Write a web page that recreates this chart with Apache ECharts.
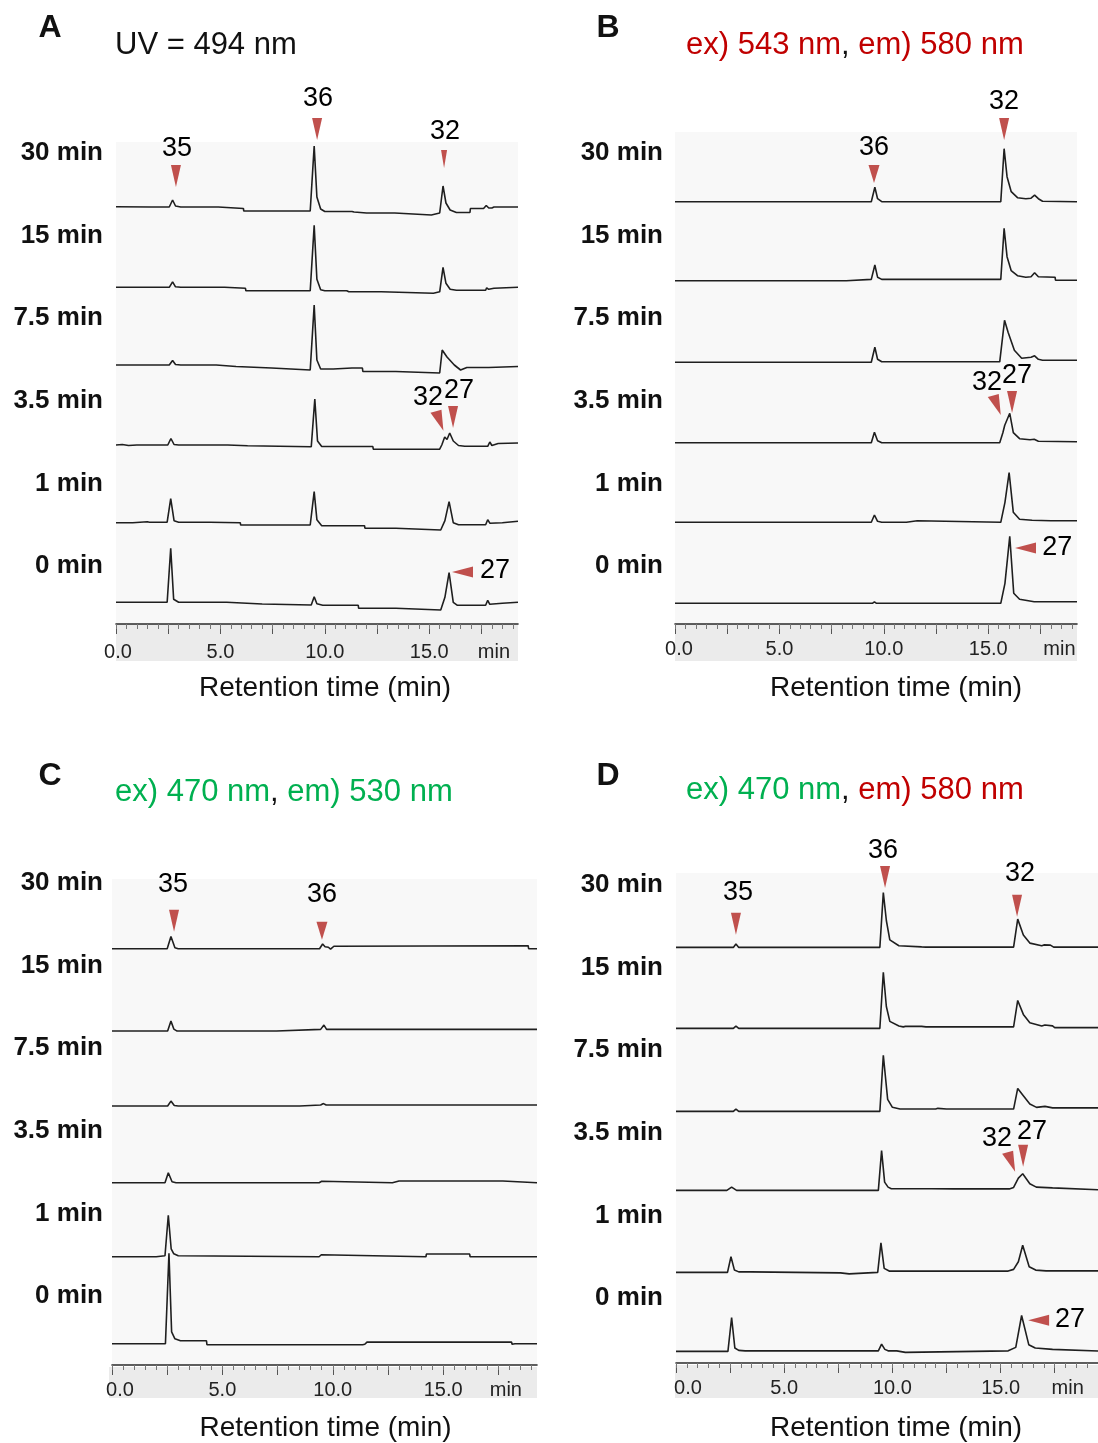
<!DOCTYPE html>
<html>
<head>
<meta charset="utf-8">
<title>HPLC chromatograms</title>
<script src="https://cdn.jsdelivr.net/npm/echarts@6/dist/echarts.min.js"></script>
<style>
  html, body { margin: 0; padding: 0; background: #ffffff; }
  #chart { width: 1098px; height: 1443px; }
</style>
</head>
<body>
<div id="chart"></div>
<script>
// Incubation times, one trace per time point (top to bottom)
const rowLabels = ['30 min', '15 min', '7.5 min', '3.5 min', '1 min', '0 min'];
// Tick labels on the retention-time axis (min)
const timeLabels = [0, 5, 10, 15];
const axisTitle = 'Retention time (min)';

// Each trace: [retention time (min), detector signal above the trace baseline]

// A: UV 494 nm
const a30 = [[0,0.3],[1.7,0],[2.55,0],[2.71,7],[2.85,1],[3.1,0],[4.9,0],[4.92,-1.5],[6.1,-1.5],[6.12,-4],[9.3,-4],[9.49,61],[9.62,10],[9.8,-2],[10.0,-4.5],[11.3,-4.5],[11.35,-3],[11.4,-5],[12.0,-6],[13.35,-6],[13.37,-8],[15.1,-8],[15.15,-6],[15.5,-6],[15.66,21],[15.8,4],[16.0,-3],[16.3,-5.5],[16.95,-5.5],[16.97,-1.5],[17.6,-1.5],[17.73,1.5],[17.85,-1],[18.0,-1],[18.1,0],[19.25,0]];
const a15 = [[0,0],[1.28,0],[1.3,1.5],[1.32,0],[2.55,0],[2.71,5.5],[2.85,0.5],[3.1,0],[3.84,0],[3.86,1.5],[3.88,0],[5.2,0],[5.22,-1],[6.2,-1],[6.22,-3.5],[9.3,-3.5],[9.49,62],[9.62,8],[9.8,-2.5],[10.0,-3.5],[11.05,-3.5],[11.1,-2],[11.15,-4.5],[12.7,-4.5],[12.75,-6],[15.2,-6],[15.22,-4.5],[15.5,-4.5],[15.66,20],[15.8,4],[16.0,-2],[16.3,-3],[17.7,-3],[17.75,-0.5],[17.85,-2],[18.1,-1],[18.12,0],[19.25,0]];
const a7_5 = [[0,0],[2.55,0],[2.71,4.5],[2.85,0.5],[3.1,0],[4.8,0],[4.82,-1.5],[5.75,-1.5],[5.77,-3],[7.45,-3],[7.47,-5],[9.3,-5],[9.49,60],[9.62,5],[9.8,-4],[10.4,-4],[10.42,-3],[11.3,-3],[11.35,-1.5],[11.4,-3],[11.8,-3],[11.82,-6.5],[13.4,-6.5],[13.42,-8],[15.5,-8],[15.62,15],[15.85,8],[16.2,0],[16.5,-5],[16.8,-2.5],[17.7,-2.5],[17.75,-0.5],[17.85,-2.5],[19.25,-1.5]];
const a3_5 = [[0,0],[0.3,0.5],[0.6,-0.5],[1.0,0],[2.48,0],[2.63,6.5],[2.78,0.5],[3.0,0],[5.35,0],[5.37,-0.7],[6.3,-0.7],[6.32,-1.7],[9.35,-1.7],[9.52,46],[9.65,4],[9.85,-1.5],[11.3,-1.5],[11.35,0],[11.4,-1.5],[12.3,-1.5],[12.32,-4.2],[15.5,-4.2],[15.6,0],[15.74,8],[15.85,5.5],[15.98,12],[16.15,4],[16.4,-0.5],[16.7,-1.3],[17.8,-1.3],[17.9,3],[18.0,-0.5],[18.3,1.5],[19.25,2]];
const a1 = [[0,0],[0.8,0],[0.85,1],[1.5,1],[1.6,0.5],[2.45,0.5],[2.62,24],[2.78,2],[3.0,0.5],[4.5,0.5],[4.52,0],[5.95,0],[5.97,-2.3],[9.3,-2.3],[9.49,31],[9.62,3],[9.85,-3],[11.9,-3],[11.92,-5.5],[13.4,-5.5],[13.42,-7.3],[15.55,-7.3],[15.75,2],[15.95,21],[16.15,0],[16.4,-2],[17.7,-2],[17.8,3],[17.9,-0.5],[18.5,0],[18.52,1],[19.25,1.5]];
const a0 = [[0,0],[2.45,0],[2.62,54],[2.76,3],[3.0,0],[5.3,0],[5.32,-1.7],[7.0,-1.7],[7.02,-2.7],[9.35,-2.7],[9.49,5.6],[9.62,-1.5],[9.9,-3],[11.6,-3],[11.62,-6],[13.4,-6],[13.42,-7.7],[15.55,-7.7],[15.75,5],[15.95,29.6],[16.15,0],[16.35,-3],[17.7,-3],[17.8,2],[17.9,-2],[18.5,-1],[18.52,0],[19.25,0]];

// B: ex 543 nm / em 580 nm
const b30 = [[0,0],[9.4,0],[9.57,14.4],[9.7,3],[9.9,0],[15.6,0],[15.76,53],[15.9,25],[16.1,10],[16.4,4],[16.8,3],[17.05,3.5],[17.22,6.5],[17.4,3],[17.6,0.5],[19.25,0]];
const b15 = [[0,0],[8.2,0],[8.22,1.3],[9.4,1.3],[9.57,15.7],[9.7,3.5],[9.9,1.3],[15.6,1.3],[15.76,52.4],[15.9,24],[16.1,10],[16.4,5],[16.8,3.5],[17.05,4],[17.22,8],[17.4,4],[18.2,3.5],[18.22,0.5],[19.25,0.5]];
const b7_5 = [[0,0],[9.4,0],[9.57,15],[9.7,3],[9.9,0.5],[11.4,0.5],[11.48,2],[11.55,0.5],[15.55,0.5],[15.78,42],[15.95,30],[16.25,12],[16.6,4],[17.05,5],[17.22,6.5],[17.4,3],[17.6,2],[19.25,2]];
const b3_5 = [[0,0],[9.4,0],[9.55,10.4],[9.7,2],[9.9,0],[15.55,0],[15.7,10],[15.79,17.5],[15.87,15.5],[16.03,29.4],[16.2,10],[16.5,4],[17.0,3],[17.2,3.5],[17.4,1.5],[19.25,1]];
const b1 = [[0,0],[9.4,0],[9.55,7.3],[9.7,1],[9.9,0],[11.08,0],[11.1,1.5],[11.6,1.5],[11.62,0],[15.6,0],[15.8,20],[16.0,49.6],[16.2,10],[16.5,3],[17.1,2],[18.0,1.5],[19.25,1.5]];
const b0 = [[0,0],[9.45,0],[9.55,1.5],[9.65,0],[15.6,0],[15.8,20],[16.03,67],[16.22,10],[16.5,4],[17.2,1.5],[19.25,1.5]];

// C: ex 470 nm / em 530 nm
const c30 = [[0,0],[2.5,0],[2.67,12.3],[2.85,1],[3.0,0],[9.4,0],[9.54,4.7],[9.65,2],[9.8,1.5],[9.9,-0.5],[10.05,2.5],[10.1,3],[18.85,3],[18.87,0],[19.25,0]];
const c15 = [[0,0],[1.9,0],[1.95,2],[2.0,0],[2.52,0],[2.67,10],[2.8,2],[2.95,0],[7.45,0],[7.47,1.7],[9.45,1.7],[9.6,6],[9.72,1.7],[19.25,1.7]];
const c7_5 = [[0,0],[2.52,0],[2.67,5],[2.82,0.5],[3.0,0],[8.5,0],[8.52,1],[9.45,1],[9.58,2.5],[9.7,1],[19.25,1]];
const c3_5 = [[0,0],[2.4,0],[2.55,10],[2.72,1],[2.9,0],[9.38,0],[9.4,1.5],[9.5,1.5],[9.52,0],[12.7,0],[12.72,1.7],[13.0,1.7],[13.02,0.5],[13.05,1.7],[17.7,1.7],[17.72,0],[19.25,0]];
const c1 = [[0,0],[1.5,0],[1.52,-1],[1.6,0],[1.9,0],[1.92,-1],[2.0,0],[2.4,1],[2.55,41.7],[2.68,8],[2.8,3],[3.0,1],[3.05,0],[9.38,0],[9.4,2],[9.48,2],[9.5,0],[14.22,0],[14.24,2.7],[16.2,2.7],[16.22,0],[16.3,-0.5],[16.35,0],[19.25,0]];
const c0 = [[0,0],[2.42,0],[2.58,91],[2.7,12],[2.85,5],[3.1,3],[4.28,3],[4.3,-1],[9.4,-1],[9.45,0.5],[9.5,-1],[11.35,-1],[11.4,0.5],[11.45,-0.5],[11.55,1.7],[18.1,1.7],[18.12,-0.5],[18.2,0.5],[18.25,0],[19.25,0]];

// D: ex 470 nm / em 580 nm
const d30 = [[0,0],[2.65,0],[2.77,3.4],[2.9,0],[9.42,0],[9.58,55],[9.72,27],[9.88,7.5],[10.3,1.7],[10.35,0.5],[11.35,0.5],[11.42,1.8],[11.55,0.3],[15.6,0.3],[15.79,28.4],[16.05,12.5],[16.35,4.3],[16.9,1.7],[17.0,2.5],[17.3,2.3],[17.45,0.3],[19.5,0.3]];
const d15 = [[0,0],[2.65,0],[2.77,2.3],[2.9,0],[9.42,0],[9.58,56.3],[9.72,22],[9.88,7],[10.3,2.3],[10.5,1.5],[10.6,2],[11.35,2],[11.42,3],[11.55,1.5],[15.6,1.5],[15.79,28],[16.05,14],[16.35,5.7],[16.9,2.3],[17.05,3.3],[17.4,2.5],[17.5,0.7],[19.5,0.7]];
const d7_5 = [[0,0],[2.65,0],[2.77,2.3],[2.9,0],[9.42,0],[9.58,56.3],[9.78,12],[10.0,4],[10.35,2.3],[12.0,2.3],[12.05,1],[12.1,3],[12.5,2.3],[15.6,2.3],[15.79,23],[16.05,15.7],[16.35,7.3],[16.66,4],[17.05,5],[17.4,3.5],[19.5,3.5]];
const d3_5 = [[0,0],[2.35,0],[2.57,3.3],[2.8,0],[8.7,0],[8.72,-0.8],[8.8,0],[9.35,0],[9.5,40],[9.64,8.3],[9.8,3.3],[9.95,1.7],[10.85,1.7],[10.9,0.5],[10.95,1.7],[11.8,1.7],[12.85,1.5],[15.4,1.5],[15.6,3],[15.82,12.3],[15.9,11.5],[16.02,16.7],[16.35,6.7],[16.65,3.3],[17.4,2.5],[17.45,0.7],[19.5,0.7]];
const d1 = [[0,0],[2.38,0],[2.54,15.7],[2.7,2.3],[2.9,0.5],[3.45,0.5],[3.47,-0.5],[7.6,-0.5],[7.62,-1.5],[8.0,-1.5],[8.02,0],[9.32,0],[9.47,29.7],[9.62,4],[9.85,1.3],[14.7,1.3],[14.75,2.5],[14.8,1.3],[15.35,1.3],[15.6,3],[15.82,10.7],[16.02,27.3],[16.32,5.7],[16.62,2.3],[17.1,1.5],[19.5,1.5]];
const d0 = [[0,0],[2.4,0],[2.57,34],[2.72,3.3],[2.9,1],[3.2,0.5],[9.35,0.5],[9.5,7.3],[9.65,2],[9.8,0.5],[10.2,0.5],[10.22,-1],[10.6,-1],[10.62,0.5],[15.35,0.5],[15.7,4],[15.97,36],[16.3,6.7],[16.6,3.3],[17.4,2],[17.42,0.3],[19.5,0.3]];

// Peak markers: [compound, trace row, arrow time, arrow level, text time, text level, arrow shape]
const marksA = [
  ['35', 0, 2.87, 20, 2.92, 61, 'down'],
  ['36', 0, 9.63, 67, 9.67, 111, 'down'],
  ['32', 0, 15.71, 39, 15.76, 78, 'thin'],
  ['32', 3, 15.68, 14.3, 14.94, 50, 'tilt'],
  ['27', 3, 16.14, 17, 16.43, 57, 'down'],
  ['27', 5, 16.09, 30.3, 18.15, 34.3, 'left']
];
const marksB = [
  ['36', 0, 9.53, 18.7, 9.53, 56.7, 'short'],
  ['32', 0, 15.76, 61.7, 15.76, 102.7, 'down'],
  ['32', 3, 15.6, 27.7, 14.94, 62.7, 'tilt'],
  ['27', 3, 16.14, 29.7, 16.38, 69.7, 'down'],
  ['27', 5, 16.28, 55.3, 18.3, 58.3, 'left']
];
const marksC = [
  ['35', 0, 2.81, 17, 2.76, 67, 'down'],
  ['36', 0, 9.51, 9, 9.51, 57, 'short']
];
const marksD = [
  ['35', 0, 2.77, 12.7, 2.87, 57.7, 'down'],
  ['36', 0, 9.66, 59.7, 9.57, 100.7, 'down'],
  ['32', 0, 15.76, 30.7, 15.9, 76.7, 'down'],
  ['32', 3, 15.67, 18.7, 14.83, 54.7, 'tilt'],
  ['27', 3, 16.04, 23.7, 16.45, 61.7, 'down'],
  ['27', 5, 16.27, 31.3, 18.21, 35.3, 'left']
];

// ---------- styling and layout ----------
const FONT = '"Liberation Sans", Arial, Helvetica, sans-serif';
const RED = '#c00000';
const GREEN = '#00b050';
const ARROW = '#c0504d';

// Arrow glyphs; "tip" is where the point sits relative to the symbol centre (fraction of size)
const arrowShapes = {
  down:  { path: 'path://M0,0L10,0L5,22Z', size: [10, 22], tip: [0, 0.5] },
  thin:  { path: 'path://M0,0L10,0L5,22Z', size: [6, 18],  tip: [0, 0.5] },
  short: { path: 'path://M0,0L10,0L5,22Z', size: [11, 18], tip: [0, 0.5] },
  tilt:  { path: 'path://M0,3L11,0L13,21Z', size: [13, 21], tip: [0.5, 0.5] },
  left:  { path: 'path://M21,0L21,11L0,5.5Z', size: [21, 11], tip: [-0.5, 0] }
};

const panels = [
  { letter: 'A', letterPos: [50, 28],
    title: '{k|UV = 494 nm}', titlePos: [115, 45],
    box: [116, 142, 402, 482], xMax: 19.25,
    traces: [a30, a15, a7_5, a3_5, a1, a0],
    offsets: [417, 336.7, 259, 179, 101.3, 21.7],
    marks: marksA,
    rowX: 103, rowY: 153,
    strip: [116, 624, 402, 37],
    labelMargin: 18, zeroPad: 4, minPad: 25, nameGap: 50, namePad: 16 },
  { letter: 'B', letterPos: [608, 28],
    title: '{r|ex) 543 nm}{k|, }{r|em) 580 nm}', titlePos: [686, 45],
    box: [675, 132, 402, 492], xMax: 19.25,
    traces: [b30, b15, b7_5, b3_5, b1, b0],
    offsets: [422.3, 343.3, 261.7, 181.3, 101.7, 20.7],
    marks: marksB,
    rowX: 663, rowY: 153,
    strip: [675, 624, 402, 37],
    labelMargin: 15, zeroPad: 8, minPad: 38, nameGap: 50, namePad: 40 },
  { letter: 'C', letterPos: [50, 776],
    title: '{g|ex) 470 nm}{k|, }{g|em) 530 nm}', titlePos: [115, 792],
    box: [112, 879, 425, 488], xMax: 19.25,
    traces: [c30, c15, c7_5, c3_5, c1, c0],
    offsets: [418, 335.3, 260, 183, 108.7, 21.3],
    marks: marksC,
    rowX: 103, rowY: 883,
    strip: [109, 1367, 428, 31],
    labelMargin: 15, zeroPad: 16, minPad: 15, nameGap: 49, namePad: 2 },
  { letter: 'D', letterPos: [608, 776],
    title: '{g|ex) 470 nm}{k|, }{r|em) 580 nm}', titlePos: [686, 790],
    box: [676, 873, 422, 492], xMax: 19.5,
    traces: [d30, d15, d7_5, d3_5, d1, d0],
    offsets: [417.3, 336, 252.7, 173.3, 91, 11.7],
    marks: marksD,
    rowX: 663, rowY: 885,
    strip: [675, 1365, 423, 33],
    labelMargin: 15, zeroPad: 24, minPad: 26, nameGap: 51, namePad: 18 }
];

const ROW_STEP = 82.6;
const MIN_LABEL_AT = 17.5;

function ticksEvery(step, limit) {
  const out = [];
  for (let i = 0; i * step <= limit + 1e-9; i++) out.push(+(i * step).toFixed(2));
  return out;
}

const option = {
  animation: false,
  backgroundColor: '#ffffff',
  grid: [], xAxis: [], yAxis: [], series: [], graphic: []
};

panels.forEach((pn, p) => {
  const [gl, gt, gw, gh] = pn.box;
  option.grid.push({
    left: gl, top: gt, width: gw, height: gh,
    show: true, backgroundColor: '#f8f8f8', borderWidth: 0
  });

  const majorTicks = ticksEvery(2.5, pn.xMax - 0.3);
  const minorTicks = ticksEvery(0.5, pn.xMax - 0.2);
  const labelRich = {
    z: { fontFamily: FONT, fontSize: 20, color: '#222', padding: [0, 0, 0, pn.zeroPad] },
    u: { fontFamily: FONT, fontSize: 20, color: '#222', padding: [0, 0, 0, pn.minPad] }
  };

  // major ticks, labels and the axis title
  option.xAxis.push({
    gridIndex: p, type: 'value', min: 0, max: pn.xMax, interval: 2.5, position: 'bottom',
    axisLine: { show: true, onZero: false, lineStyle: { color: '#2a2a2a', width: 1.6 } },
    axisTick: { show: true, inside: false, length: 10, customValues: majorTicks,
                lineStyle: { color: '#555', width: 1 } },
    axisLabel: {
      show: true, margin: pn.labelMargin, fontFamily: FONT, fontSize: 20, color: '#222',
      customValues: timeLabels.concat([MIN_LABEL_AT]),
      formatter: v => {
        if (Math.abs(v - MIN_LABEL_AT) < 1e-6) return '{u|min}';
        if (!timeLabels.includes(v)) return '';
        return v === 0 ? '{z|0.0}' : v.toFixed(1);
      },
      rich: labelRich
    },
    splitLine: { show: false },
    name: axisTitle, nameLocation: 'middle', nameGap: pn.nameGap,
    nameTextStyle: { fontFamily: FONT, fontSize: 28, color: '#111', padding: [0, 0, 0, pn.namePad] }
  });
  // minor ticks every 0.5 min
  option.xAxis.push({
    gridIndex: p, type: 'value', min: 0, max: pn.xMax, interval: 0.5, position: 'bottom',
    axisLine: { show: false, onZero: false },
    axisTick: { show: true, inside: false, length: 5, customValues: minorTicks,
                lineStyle: { color: '#777', width: 1 } },
    axisLabel: { show: false },
    splitLine: { show: false }
  });
  option.yAxis.push({ gridIndex: p, type: 'value', min: 0, max: gh, show: false });

  const xi = 2 * p;
  // stacked chromatogram traces
  pn.traces.forEach((trace, i) => {
    option.series.push({
      type: 'line', xAxisIndex: xi, yAxisIndex: p, silent: true,
      showSymbol: false, symbol: 'none', z: 2,
      lineStyle: { color: '#1f1f1f', width: 1.6 },
      data: trace.map(([t, v]) => [t, v + pn.offsets[i]])
    });
  });

  // peak arrows
  option.series.push({
    type: 'scatter', xAxisIndex: xi, yAxisIndex: p, silent: true, clip: false, z: 5,
    itemStyle: { color: ARROW, opacity: 1 },
    data: pn.marks.map(m => {
      const s = arrowShapes[m[6]];
      return {
        value: [m[2], m[3] + pn.offsets[m[1]]],
        symbol: s.path,
        symbolSize: s.size,
        symbolOffset: [-s.tip[0] * s.size[0], -s.tip[1] * s.size[1]]
      };
    })
  });
  // compound numbers
  option.series.push({
    type: 'scatter', xAxisIndex: xi, yAxisIndex: p, silent: true, clip: false, z: 6,
    symbolSize: 1, itemStyle: { color: '#f8f8f8', opacity: 0 },
    label: { show: true, position: 'inside', formatter: '{b}', offset: [0, 3],
             fontFamily: FONT, fontSize: 27, color: '#000', opacity: 1,
             textBorderWidth: 0, textShadowBlur: 0 },
    data: pn.marks.map(m => ({ name: m[0], value: [m[4], m[5] + pn.offsets[m[1]]] }))
  });

  // grey band under the time axis
  option.graphic.push({
    type: 'rect', silent: true, z: -1,
    shape: { x: pn.strip[0], y: pn.strip[1], width: pn.strip[2], height: pn.strip[3] },
    style: { fill: '#ebebeb' }
  });
  // panel letter
  option.graphic.push({
    type: 'text', silent: true, x: pn.letterPos[0], y: pn.letterPos[1],
    style: { text: pn.letter, font: 'bold 32px ' + FONT, fill: '#111',
             textAlign: 'center', textVerticalAlign: 'middle' }
  });
  // detection channel
  option.graphic.push({
    type: 'text', silent: true, x: pn.titlePos[0], y: pn.titlePos[1],
    style: {
      text: pn.title, font: '31px ' + FONT, fill: '#111',
      textAlign: 'left', textVerticalAlign: 'middle',
      rich: {
        k: { fill: '#111', font: '31px ' + FONT },
        r: { fill: RED, font: '31px ' + FONT },
        g: { fill: GREEN, font: '31px ' + FONT }
      }
    }
  });
  // time-point labels
  rowLabels.forEach((lab, i) => {
    option.graphic.push({
      type: 'text', silent: true, x: pn.rowX, y: pn.rowY + i * ROW_STEP,
      style: { text: lab, font: 'bold 26px ' + FONT, fill: '#111',
               textAlign: 'right', textVerticalAlign: 'middle' }
    });
  });
});

const chart = echarts.init(document.getElementById('chart'), null, { renderer: 'canvas' });
chart.setOption(option);
</script>
</body>
</html>
